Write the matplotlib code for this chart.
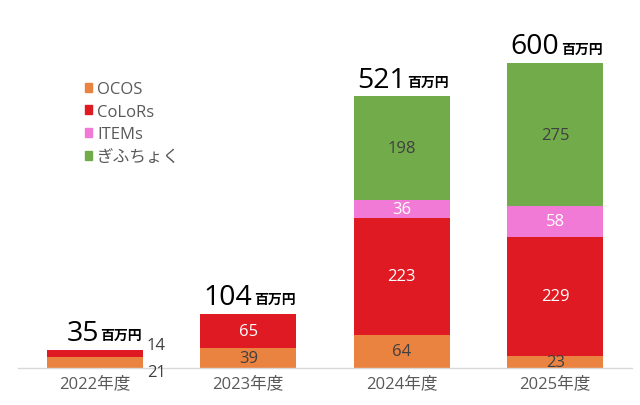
import numpy as np
import matplotlib
matplotlib.use('Agg')
import matplotlib.pyplot as plt
from matplotlib.patches import Patch

plt.rcParams['font.family'] = ['Open Sans', 'Noto Sans CJK JP', 'DejaVu Sans']

years = ['2022年度', '2023年度', '2024年度', '2025年度']
totals = ['35', '104', '521', '600']
series = ['OCOS', 'CoLoRs', 'ITEMs', 'ぎふちょく']
ocos = [21, 39, 64, 23]
colors_ = [14, 65, 223, 229]
items = [0, 0, 36, 58]
gifu = [0, 0, 198, 275]

fills = ['#EA8240', '#DF1A23', '#F07AD6', '#72AC4A']
txt_col = ['#404040', 'white', 'white', '#404040']

fig = plt.figure(figsize=(6.4, 4.06), dpi=100)
ax = fig.add_axes([18 / 640, 37 / 406, 614 / 640, 365 / 406])

x = np.arange(len(years))
w = 0.625
bottom = np.zeros(len(years))
for vals, name, c, tc in zip([ocos, colors_, items, gifu], series, fills, txt_col):
    vals = np.array(vals, dtype=float)
    ax.bar(x, vals, w, bottom=bottom, color=c, label=name, edgecolor='none')
    for i, v in enumerate(vals):
        if v <= 0:
            continue
        if i == 0:
            # small bar: labels to the right of the bar
            ax.annotate(str(int(v)), (x[i] + w / 2, bottom[i] + v / 2),
                        xytext=(3, -7 if name == 'OCOS' else 6), textcoords='offset points',
                        ha='left', va='center', fontsize=12, color='#404040')
        else:
            ax.text(x[i], bottom[i] + v / 2, str(int(v)), ha='center', va='center',
                    fontsize=12, color=tc)
    bottom += vals

for i, t in enumerate(totals):
    ax.annotate(t, (x[i], bottom[i]), xytext=(3, 7), textcoords='offset points',
                ha='right', va='baseline', fontsize=20.5, color='black')
    ax.annotate('百万円', (x[i], bottom[i]), xytext=(4, 7.5), textcoords='offset points',
                ha='left', va='baseline', fontsize=10, fontweight='bold', color='black')

ax.set_xlim(-0.5, 3.5)
ax.set_ylim(0, 700)
ax.set_xticks(x)
ax.set_xticklabels(years, fontsize=12, color='#595959')
ax.tick_params(axis='x', length=0, pad=5)
ax.set_yticks([])
for s in ['top', 'right', 'left']:
    ax.spines[s].set_visible(False)
ax.spines['bottom'].set_color('#D9D9D9')
ax.spines['bottom'].set_linewidth(1)

handles = [Patch(color=c, label=n) for c, n in zip(fills, series)]
ax.legend(handles=handles, loc='upper left', bbox_to_anchor=(0.09, 0.818), frameon=False,
          handlelength=0.45, handleheight=0.45, handletextpad=0.3, labelspacing=0.4,
          fontsize=12, labelcolor='#595959', borderaxespad=0.3)

fig.savefig('out.png', dpi=100)
